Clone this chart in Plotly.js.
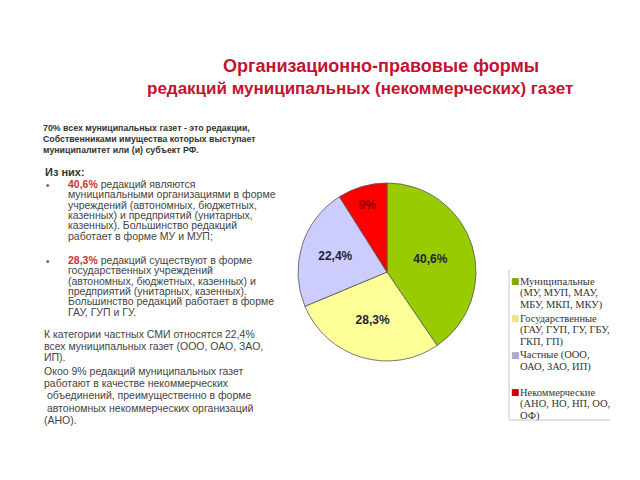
<!DOCTYPE html>
<html>
<head>
<meta charset="utf-8">
<script src="https://cdn.plot.ly/plotly-3.0.1.min.js"></script>
<style>html,body{margin:0;padding:0;background:#fff;}#chart{width:640px;height:480px;}</style>
</head>
<body>
<div id="chart"></div>
<script>
// ---- data ----
const categories = ['Муниципальные', 'Государственные', 'Частные', 'Некоммерческие'];
const shares = [40.6, 28.3, 22.4, 9];
const shareLabels = ['40,6%', '28,3%', '22,4%', '9%'];
const sliceColors = ['#99CC00', '#FFFF99', '#CCCCFF', '#FF0000'];
const legendSwatch = ['#80AA00', '#E6E67A', '#A8A8D0', '#CC0000'];
const labelColors = ['#1E1E3C', '#1E1E3C', '#1E1E3C', '#8B0000'];
const legendLines = [
  ['Муниципальные', '(МУ, МУП, МАУ,', 'МБУ, МКП, МКУ)'],
  ['Государственные', '(ГАУ, ГУП, ГУ, ГБУ,', 'ГКП, ГП)'],
  ['Частные (ООО,', 'ОАО, ЗАО, ИП)'],
  ['Некоммерческие', '(АНО, НО, НП, ОО,', 'ОФ)']
];
const titleLines = ['Организационно-правовые формы', 'редакций муниципальных (некоммерческих) газет'];
const introLines = ['70% всех муниципальных газет - это редакции,', 'Собственниками имущества которых выступает', 'муниципалитет или (и) субъект РФ.'];
const bullet1 = ['<b><span style="color:#CC3333">40,6%</span></b> редакций являются', 'муниципальными организациями в форме', 'учреждений (автономных, бюджетных,', 'казенных) и предприятий (унитарных,', 'казенных). Большинство редакций', 'работает в форме МУ и МУП;'];
const bullet2 = ['<b><span style="color:#CC3333">28,3%</span></b> редакций существуют в форме', 'государственных учреждений', '(автономных, бюджетных, казенных) и', 'предприятий (унитарных, казенных).', 'Большинство редакций работает в форме', 'ГАУ, ГУП и ГУ.'];
const tailLines1 = ['К категории частных СМИ относятся 22,4%', 'всех муниципальных газет (ООО, ОАО, ЗАО,', 'ИП).'];
const tailLines2 = ['Окоо 9% редакций муниципальных газет', 'работают в качестве некоммерческих', ' объединений, преимущественно в форме', ' автономных некоммерческих организаций', '(АНО).'];

// ---- helpers ----
const W = 640, H = 480;
const px = x => x / W, py = y => 1 - y / H;
const ann = [];
const SANS = 'Arial, "Liberation Sans", sans-serif';
const SERIF = '"Liberation Serif", "Times New Roman", serif';
function txt(x, y, t, size, color, opts, family) {
  ann.push(Object.assign({
    xref: 'paper', yref: 'paper', x: px(x), y: py(y), xanchor: 'left', yanchor: 'middle',
    text: t, showarrow: false, align: 'left', borderpad: 0,
    font: {family: family || SANS, size: size, color: color}
  }, opts || {}));
}

// title
txt(381, 66, '<b>' + titleLines[0] + '</b>', 18, '#C41230', {xanchor: 'center'});
txt(360, 88, '<b>' + titleLines[1] + '</b>', 17, '#C41230', {xanchor: 'center'});

// intro
introLines.forEach((l, i) => txt(42, 128 + i * 10.8, '<b>' + l + '</b>', 8.8, '#333333'));
txt(44, 172, '<b>Из них:</b>', 11, '#333333');

// bullets
txt(45, 185, '•', 10, '#CC3333');
bullet1.forEach((l, i) => txt(67, 184 + i * 10.3, l, 10.5, '#444444'));
txt(45, 261, '•', 10, '#CC3333');
bullet2.forEach((l, i) => txt(67, 260 + i * 10.3, l, 10.5, '#444444'));
tailLines1.forEach((l, i) => txt(43, 334 + i * 11.6, l, 10.5, '#444444'));
tailLines2.forEach((l, i) => txt(43, 371 + i * 12.2, l, 10.5, '#444444'));

// legend (custom)
const legendStart = [281, 318, 355, 392];
legendLines.forEach((lines, k) => {
  txt(510, legendStart[k], '■', 9, legendSwatch[k], {}, 'DejaVu Sans');
  lines.forEach((l, j) => txt(519, legendStart[k] + j * 12, l, 10.5, '#333333', {}, SERIF));
});

const shapes = [
  {type: 'line', xref: 'paper', yref: 'paper', x0: px(509), x1: px(509), y0: py(270), y1: py(420), line: {color: '#C8C8C8', width: 1}},
  {type: 'line', xref: 'paper', yref: 'paper', x0: px(509), x1: px(610), y0: py(420), y1: py(420), line: {color: '#C8C8C8', width: 1}}
];

const trace = {
  type: 'pie',
  labels: categories,
  values: shares,
  text: shareLabels,
  textinfo: 'text',
  textposition: 'inside',
  insidetextorientation: 'horizontal',
  sort: false,
  direction: 'clockwise',
  rotation: 0,
  marker: {colors: sliceColors, line: {color: '#555555', width: 0.8}},
  textfont: {family: SANS, size: 12, weight: 'bold', color: labelColors},
  domain: {x: [px(298), px(476)], y: [py(361), py(183)]},
  hoverinfo: 'label+text'
};

Plotly.newPlot('chart', [trace], {
  width: W, height: H,
  margin: {l: 0, r: 0, t: 0, b: 0},
  paper_bgcolor: '#ffffff',
  showlegend: false,
  annotations: ann,
  shapes: shapes
}, {displayModeBar: false, staticPlot: true});
</script>
</body>
</html>
